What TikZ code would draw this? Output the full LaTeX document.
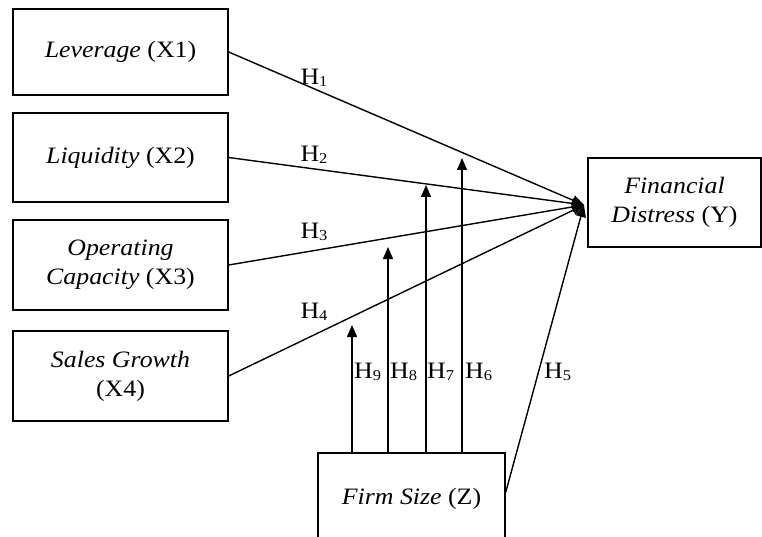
\documentclass[tikz,border=0pt]{standalone}
\usepackage{fontspec}
\setmainfont[FakeStretch=1.1]{Liberation Serif}
\usetikzlibrary{arrows.meta}
\newcommand\hsub[1]{\raisebox{-1.5pt}{\fontsize{15}{15}\selectfont #1}}
\begin{document}
\begin{tikzpicture}[x=1pt,y=-1pt,
  box/.style={draw, line width=1.4pt, minimum width=215pt, inner sep=0pt, align=center,
    font=\fontsize{23.5}{29}\selectfont},
  arr/.style={line width=1.4pt, -{Triangle[length=12pt,width=10pt]}},
  hl/.style={font=\fontsize{23.5}{26}\selectfont, inner sep=0pt}]
\useasboundingbox (0,0) rectangle (762,537);
\clip (0,0) rectangle (762,537);
\node[box, minimum height=86pt] (x1) at (120.5,52) {\textit{Leverage} (X1)};
\node[box, minimum height=89pt] (x2) at (120.5,157.5) {\textit{Liquidity} (X2)};
\node[box, minimum height=90pt] (x3) at (120.5,265) {\textit{Operating}\\\textit{Capacity} (X3)};
\node[box, minimum height=90pt] (x4) at (120.5,376) {\textit{Sales Growth}\\(X4)};
\node[box, minimum width=173pt, minimum height=89pt] (y) at (674.5,202.5) {\textit{Financial}\\\textit{Distress} (Y)};
\node[box, minimum width=187pt, minimum height=92pt] (z) at (411.5,499) {\textit{Firm Size} (Z)};
\coordinate (conv) at (584,205);
\coordinate (t9) at (352,325);
\coordinate (t8) at (388,247);
\coordinate (t7) at (426,185);
\coordinate (t6) at (462,158);
\draw[arr] (x1.east) -- (conv);
\draw[arr] (x2.east) -- (conv);
\draw[arr] (x3.east) -- (conv);
\draw[arr] (x4.east) -- (conv);
\draw[arr] ([yshift=-40pt]z.north east) -- (conv);
\draw[arr] (t9 |- z.north) -- (t9);
\draw[arr] (t8 |- z.north) -- (t8);
\draw[arr] (t7 |- z.north) -- (t7);
\draw[arr] (t6 |- z.north) -- (t6);
\node[hl] (h1) at (314,78) {H\hsub{1}};
\node[hl] (h2) at (314,155) {H\hsub{2}};
\node[hl] (h3) at (314,232) {H\hsub{3}};
\node[hl] (h4) at (314,312) {H\hsub{4}};
\node[hl, anchor=west] (h9) at (354,372) {H\hsub{9}};
\node[hl, anchor=west] (h8) at (390,372) {H\hsub{8}};
\node[hl, anchor=west] (h7) at (427,372) {H\hsub{7}};
\node[hl, anchor=west] (h6) at (465,372) {H\hsub{6}};
\node[hl, anchor=west] (h5) at (544,372) {H\hsub{5}};
\end{tikzpicture}
\end{document}
